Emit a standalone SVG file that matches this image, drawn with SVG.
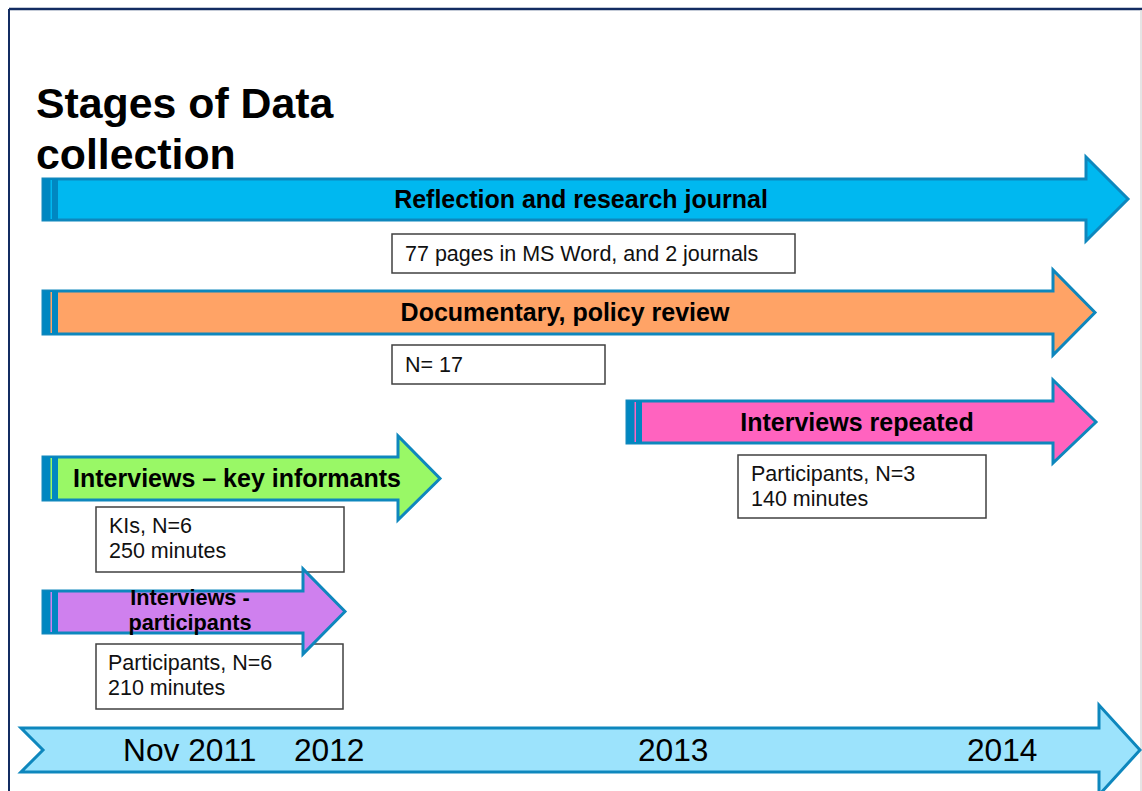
<svg xmlns="http://www.w3.org/2000/svg" width="1142" height="791" viewBox="0 0 1142 791">
<style>
.arrow{stroke:#0E87BD;stroke-width:3;stroke-linejoin:miter}
.band{fill:#0087C1}
.lbl{font-family:"Liberation Sans",Arial,sans-serif;font-weight:bold;font-size:25px;fill:#000;text-anchor:middle}
.box{fill:#fff;stroke:#404040;stroke-width:1.5}
.bt{font-family:"Liberation Sans",Arial,sans-serif;font-size:21.5px;fill:#111}
.tl{font-family:"Liberation Sans",Arial,sans-serif;font-size:31.7px;fill:#000}
.title{font-family:"Liberation Sans",Arial,sans-serif;font-weight:bold;font-size:42.8px;fill:#000}
</style>
<rect x="0" y="0" width="1142" height="791" fill="#fff"/>
<g id="page">
<line x1="9" y1="9" x2="1142" y2="9" stroke="#132C62" stroke-width="2.5"/>
<line x1="9" y1="9" x2="9" y2="791" stroke="#132C62" stroke-width="2"/>
<line x1="1141" y1="10" x2="1141" y2="791" stroke="#DDDDDD" stroke-width="1.5"/>
</g>
<g id="title">
<text class="title" x="36" y="118">Stages of Data</text>
<text class="title" x="36" y="169">collection</text>
</g>
<g id="connectors"></g>
<g id="journal">
<polygon class="arrow" fill="#00B8F0" points="43,179 1086,179 1086,157 1128,199 1086,241 1086,220 43,220"/>
<rect class="band" x="43" y="179" width="15" height="41"/>
<rect x="50.5" y="180" width="1.5" height="39" fill="#00B8F0"/>
<text class="lbl" x="581" y="208">Reflection and research journal</text>
</g>
<g id="journal-box">
<rect class="box" x="392" y="234" width="403" height="39"/>
<text class="bt" x="405" y="261">77 pages in MS Word, and 2 journals</text>
</g>
<g id="policy">
<polygon class="arrow" fill="#FFA366" points="43,291 1053,291 1053,270 1095,312.5 1053,355 1053,334 43,334"/>
<rect class="band" x="43" y="291" width="15" height="43"/>
<rect x="50.5" y="292" width="1.5" height="41" fill="#FFA366"/>
<text class="lbl" x="565" y="321">Documentary, policy review</text>
</g>
<g id="policy-box">
<rect class="box" x="392" y="345" width="213" height="39"/>
<text class="bt" x="405" y="372">N= 17</text>
</g>
<g id="repeated">
<polygon class="arrow" fill="#FF63BF" points="627,401 1053,401 1053,380 1096,422 1053,463 1053,443 627,443"/>
<rect class="band" x="627" y="401" width="15" height="42"/>
<rect x="634.5" y="402" width="1.5" height="40" fill="#FF63BF"/>
<text class="lbl" x="857" y="430.5">Interviews repeated</text>
</g>
<g id="repeated-box">
<rect class="box" x="738" y="455" width="248" height="63"/>
<text class="bt" x="751" y="481">Participants, N=3</text>
<text class="bt" x="751" y="506">140 minutes</text>
</g>
<g id="key-informants">
<polygon class="arrow" fill="#99F866" points="43,457 398,457 398,436 440,478.5 398,520 398,500 43,500"/>
<rect class="band" x="43" y="457" width="15" height="43"/>
<rect x="50.5" y="458" width="1.5" height="41" fill="#99F866"/>
<text class="lbl" x="237" y="487">Interviews – key informants</text>
</g>
<g id="ki-box">
<rect class="box" x="96" y="507" width="248" height="65"/>
<text class="bt" x="109" y="533">KIs, N=6</text>
<text class="bt" x="109" y="558">250 minutes</text>
</g>
<g id="participants-box">
<rect class="box" x="96" y="644" width="247" height="65"/>
<text class="bt" x="108" y="670">Participants, N=6</text>
<text class="bt" x="108" y="695">210 minutes</text>
</g>
<g id="participants">
<polygon class="arrow" fill="#CF80EE" points="43,591 303,591 303,569 345,611.5 303,654 303,633 43,633"/>
<rect class="band" x="43" y="591" width="15" height="42"/>
<rect x="50.5" y="592" width="1.5" height="40" fill="#CF80EE"/>
<text class="lbl" x="190" y="605" style="font-size:21.7px">Interviews -</text>
<text class="lbl" x="190" y="630" style="font-size:21.7px">participants</text>
</g>
<g id="timeline">
<polygon class="arrow" fill="#9CE3FC" points="21,728 1099,728 1099,705 1140,750 1099,795 1099,772 21,772 43,750"/>
<text class="tl" x="123" y="761">Nov 2011</text>
<text class="tl" x="294" y="761">2012</text>
<text class="tl" x="638" y="761">2013</text>
<text class="tl" x="967" y="761">2014</text>
</g>
</svg>
